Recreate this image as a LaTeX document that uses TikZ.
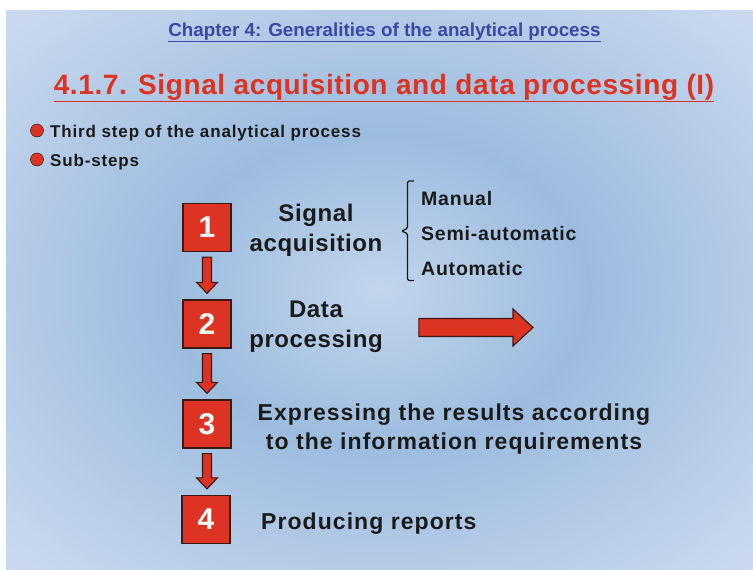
\documentclass[tikz,border=0pt]{standalone}
\usepackage{fontspec}
\setmainfont{Liberation Sans}
\newfontfamily\wideA[LetterSpace=2.5]{Liberation Sans}
\newfontfamily\wideB[LetterSpace=4.6]{Liberation Sans}
\newfontfamily\wideC[LetterSpace=4.0]{Liberation Sans}
\newfontfamily\wideD[LetterSpace=5.0]{Liberation Sans}
\newfontfamily\wideE[LetterSpace=2.2]{Liberation Sans}
\usetikzlibrary{calc}
\definecolor{bgc}{HTML}{C2D5EC}
\definecolor{bgm}{HTML}{9CBCDF}
\definecolor{bgo}{HTML}{C9D8EE}
\definecolor{bge}{HTML}{F4E6F5}
\definecolor{myred}{HTML}{DD3322}
\definecolor{myblue}{HTML}{3A48A6}
\definecolor{boxedge}{HTML}{3A1A14}
\definecolor{ink}{HTML}{1A1A1A}
\pgfdeclareradialshading{slidebg}{\pgfpoint{0bp}{0bp}}{color(0bp)=(bgc); color(14bp)=(bgm); color(34bp)=(bgo); color(50bp)=(bge!70!bgo); color(62bp)=(bge); color(100bp)=(bge)}
\tikzset{
  numbox/.style={draw=boxedge, line width=1.3pt, fill=myred, minimum width=48pt, minimum height=48pt, inner sep=0pt, text=white, font=\bfseries\fontsize{30}{30}\selectfont},
  steptext/.style={text=ink, font=\wideA\bfseries\fontsize{24}{30}\selectfont, align=center, inner sep=0pt},
  longtext/.style={text=ink, font=\wideB\bfseries\fontsize{23}{29}\selectfont, align=center, inner sep=0pt},
  subtext/.style={text=ink, font=\wideC\bfseries\fontsize{19.5}{20}\selectfont, anchor=west, inner sep=0pt},
  bullettext/.style={text=ink, font=\wideD\bfseries\fontsize{17}{17}\selectfont, anchor=west, inner sep=0pt},
  blk/.style={draw=boxedge, line width=1.1pt, fill=myred, line join=miter},
  dot/.style={circle, fill=myred, draw=boxedge, line width=0.5pt, minimum size=13pt, inner sep=0pt}
}
\begin{document}
\begin{tikzpicture}[x=1pt, y=-1pt]
\useasboundingbox (0,0) rectangle (753,570);
\fill[white] (0,0) rectangle (753,570);
\shade[shading=slidebg] (6,10) rectangle (753,570);

% headings
\node[text=myblue, font=\bfseries\fontsize{18.8}{19}\selectfont, inner sep=0pt] (chap) at (384.5,32.5) {\underline{Chapter 4: Generalities of the analytical process}};
\node[text=myred, font=\wideE\bfseries\fontsize{28}{28}\selectfont, inner sep=0pt] (title) at (384,88) {\underline{4.1.7. Signal acquisition and data processing (I)}};

% bullets
\node[dot] (d1) at (37,130.5) {};
\node[bullettext] (t1) at (50,133) {Third step of the analytical process};
\node[dot] (d2) at (37,159.5) {};
\node[bullettext] (t2) at (50,162) {Sub-steps};

% boxes
\node[numbox] (b1) at (207,227.5) {1};
\node[numbox] (b2) at (207,324) {2};
\node[numbox] (b3) at (207,424) {3};
\node[numbox] (b4) at (206,519.5) {4};

% step texts
\node[steptext] (s1) at (316,230.5) {Signal\\acquisition};
\node[steptext] (s2) at (316,327) {Data\\processing};
\node[longtext] (s3) at (454,429.5) {Expressing the results according\\to the information requirements};
\node[longtext, anchor=west] (s4) at (261,524) {Producing reports};

% sub-steps of step 1
\node[subtext] (m1) at (421,199) {Manual};
\node[subtext] (m2) at (421,234) {Semi-automatic};
\node[subtext] (m3) at (421,269) {Automatic};
\draw[ink, line width=1.3pt, rounded corners=1.5pt] (414,181) -- (407.5,181) -- (407.5,228.5) -- (401.5,231) -- (407.5,233.5) -- (407.5,280.5) -- (414,280.5);

% down arrows between boxes
\foreach \a/\b in {b1/b2, b2/b3, b3/b4}{
  \draw[blk] let \p1=($(\a.south)+(0,5)$), \p2=($(\b.north)+(0,-6)$) in
    (\x1-4.5pt,\y1) -- (\x1+4.5pt,\y1) -- (\x1+4.5pt,\y2+11pt) -- (\x1+10.5pt,\y2+11pt) -- (\x1,\y2) -- (\x1-10.5pt,\y2+11pt) -- (\x1-4.5pt,\y2+11pt) -- cycle;
}

% big right arrow after data processing
\coordinate (aend) at (533,327.5);
\draw[blk] let \p1=($(s2.east)+(36,0.5)$), \p2=(aend) in
  (\x1,\y2+9pt) -- (\x2-20pt,\y2+9pt) -- (\x2-20pt,\y2+18.5pt) -- (\x2,\y2) -- (\x2-20pt,\y2-18.5pt) -- (\x2-20pt,\y2-9pt) -- (\x1,\y2-9pt) -- cycle;
\end{tikzpicture}
\end{document}
